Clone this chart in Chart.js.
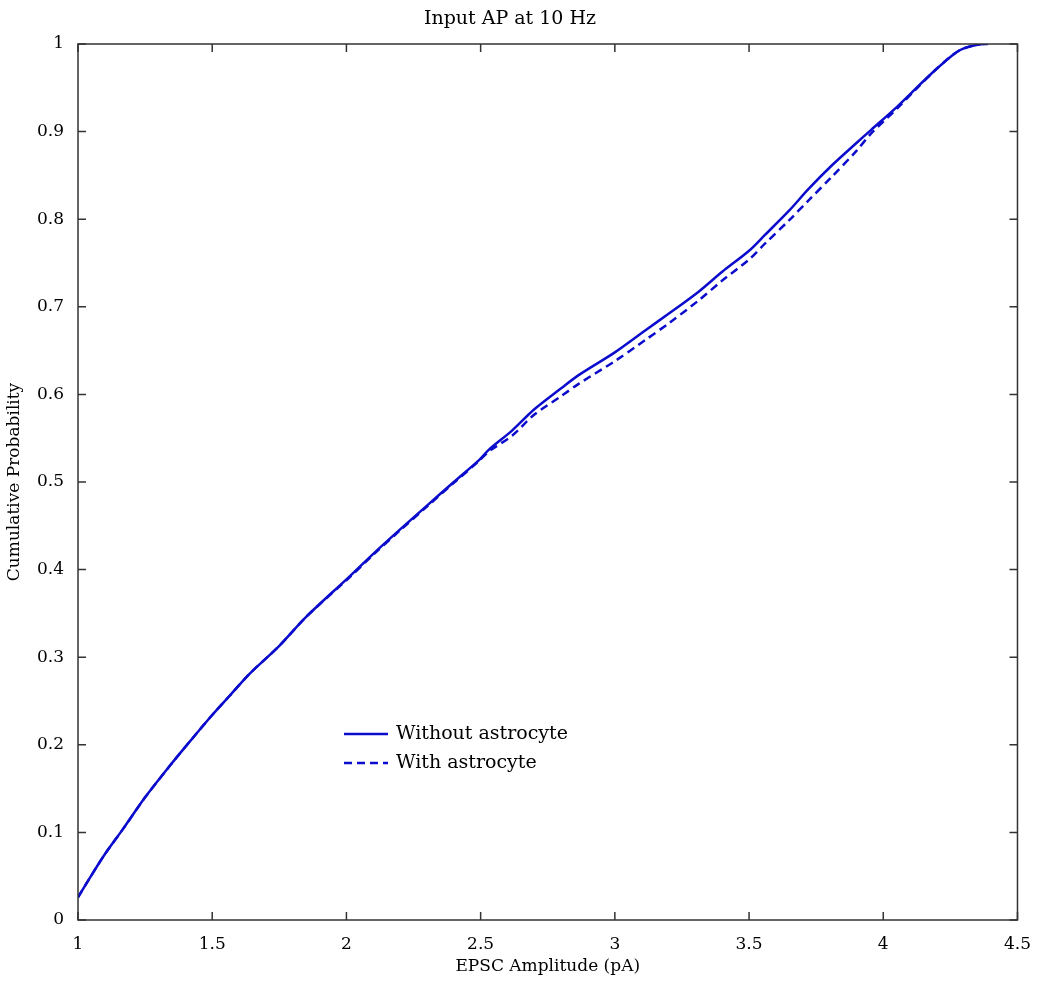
<!DOCTYPE html>
<html>
<head>
<meta charset="utf-8">
<script src="https://cdn.jsdelivr.net/npm/chart.js@4/dist/chart.umd.min.js"></script>
<style>
    html, body { margin: 0; padding: 0; background: #fff; }
    #wrap { width: 1037px; height: 981px; }
</style>
</head>
<body>
<div id="wrap"><canvas id="myChart"></canvas></div>
<script>
const ctx = document.getElementById('myChart');
const fontFamily = "'DejaVu Serif', 'Liberation Serif', serif";
const lineColor = 'rgb(12, 12, 205)';
const axisColor = '#333';

// EPSC amplitude (pA), shared by both curves
const amplitude = [1.0, 1.05, 1.1, 1.168, 1.25, 1.342, 1.42, 1.5, 1.565, 1.639, 1.75, 1.85,
    2.011, 2.1, 2.197, 2.3, 2.4, 2.494, 2.531, 2.618, 2.7, 2.8, 2.865, 3.0, 3.113, 3.2,
    3.311, 3.4, 3.5, 3.559, 3.65, 3.72, 3.807, 3.9, 3.955, 4.05, 4.117, 4.2, 4.265, 4.3,
    4.364, 4.39];
const probWithout = [0.026, 0.051, 0.075, 0.104, 0.14, 0.176, 0.205, 0.234, 0.256, 0.281, 0.313, 0.346,
    0.392, 0.418, 0.445, 0.473, 0.50, 0.525, 0.537, 0.559, 0.583, 0.607, 0.622, 0.648, 0.673, 0.692,
    0.717, 0.740, 0.764, 0.782, 0.810, 0.834, 0.861, 0.887, 0.902, 0.928, 0.948, 0.972, 0.989, 0.995,
    1.0, 1.0];
const probWith = [0.026, 0.051, 0.075, 0.104, 0.14, 0.176, 0.205, 0.234, 0.256, 0.281, 0.313, 0.346,
    0.391, 0.417, 0.444, 0.472, 0.499, 0.524, 0.535, 0.553, 0.577, 0.598, 0.612, 0.638, 0.662, 0.681,
    0.707, 0.730, 0.754, 0.772, 0.799, 0.821, 0.848, 0.878, 0.898, 0.926, 0.947, 0.972, 0.989, 0.995,
    1.0, 1.0];
const seriesLabels = ['Without astrocyte', 'With astrocyte'];
const xTicks = [1, 1.5, 2, 2.5, 3, 3.5, 4, 4.5];
const yTicks = [0, 0.1, 0.2, 0.3, 0.4, 0.5, 0.6, 0.7, 0.8, 0.9, 1];

// Box around the plot with MATLAB-style inward ticks on all sides
const matlabBox = {
    id: 'matlabBox',
    afterDatasetsDraw(chart) {
        const {ctx, chartArea: {top, bottom, left, right}, scales: {x, y}} = chart;
        const len = 8;
        ctx.save();
        ctx.strokeStyle = axisColor;
        ctx.lineWidth = 1.5;
        ctx.strokeRect(left, top, right - left, bottom - top);
        ctx.beginPath();
        xTicks.forEach(v => {
            const px = x.getPixelForValue(v);
            ctx.moveTo(px, bottom); ctx.lineTo(px, bottom - len);
            ctx.moveTo(px, top); ctx.lineTo(px, top + len);
        });
        yTicks.forEach(v => {
            const py = y.getPixelForValue(v);
            ctx.moveTo(left, py); ctx.lineTo(left + len, py);
            ctx.moveTo(right, py); ctx.lineTo(right - len, py);
        });
        ctx.stroke();
        ctx.restore();
    }
};

// Legend drawn inside the plot area, without a frame
const innerLegend = {
    id: 'innerLegend',
    afterDraw(chart) {
        const {ctx, chartArea: {top, left}} = chart;
        const x0 = left + 266, y0 = top + 690, gap = 29;
        ctx.save();
        ctx.font = '19px ' + fontFamily;
        ctx.textBaseline = 'middle';
        chart.data.datasets.forEach((ds, i) => {
            const yy = y0 + i * gap;
            ctx.strokeStyle = ds.borderColor;
            ctx.lineWidth = 2.5;
            ctx.setLineDash(ds.borderDash || []);
            ctx.beginPath();
            ctx.moveTo(x0, yy);
            ctx.lineTo(x0 + 44, yy);
            ctx.stroke();
            ctx.setLineDash([]);
            ctx.fillStyle = '#000';
            ctx.fillText(ds.label, x0 + 52, yy);
        });
        ctx.restore();
    }
};

function makeData(ys) {
    return amplitude.map((a, i) => ({x: a, y: ys[i]}));
}

new Chart(ctx, {
    type: 'scatter',
    data: {
        datasets: [
            {
                label: seriesLabels[0],
                data: makeData(probWithout),
                showLine: true,
                borderColor: lineColor,
                borderWidth: 2.5,
                pointRadius: 0,
                tension: 0.3
            },
            {
                label: seriesLabels[1],
                data: makeData(probWith),
                showLine: true,
                borderColor: lineColor,
                borderWidth: 2.5,
                borderDash: [8, 5],
                pointRadius: 0,
                tension: 0.3
            }
        ]
    },
    options: {
        responsive: true,
        maintainAspectRatio: false,
        animation: false,
        layout: {padding: {top: 0, right: 17, bottom: 0, left: 0}},
        scales: {
            x: {
                type: 'linear',
                min: 1,
                max: 4.5,
                afterBuildTicks: s => { s.ticks = xTicks.map(v => ({value: v})); },
                afterFit: s => { s.height = 61; },
                grid: {display: false},
                border: {display: false},
                ticks: {
                    color: '#000',
                    padding: 6,
                    font: {family: fontFamily, size: 17},
                    callback: v => String(v)
                },
                title: {
                    display: true,
                    text: 'EPSC Amplitude (pA)',
                    color: '#000',
                    padding: {top: 2},
                    font: {family: fontFamily, size: 17}
                }
            },
            y: {
                min: 0,
                max: 1,
                afterBuildTicks: s => { s.ticks = yTicks.map(v => ({value: v})); },
                afterFit: s => { s.width = 78; },
                grid: {display: false},
                border: {display: false},
                ticks: {
                    color: '#000',
                    padding: 6,
                    font: {family: fontFamily, size: 17},
                    callback: v => String(v)
                },
                title: {
                    display: true,
                    text: 'Cumulative Probability',
                    color: '#000',
                    padding: {bottom: 0},
                    font: {family: fontFamily, size: 17}
                }
            }
        },
        plugins: {
            legend: {display: false},
            tooltip: {enabled: false},
            title: {
                display: true,
                text: 'Input AP at 10 Hz',
                color: '#000',
                padding: {top: 8, bottom: 13.2},
                font: {family: fontFamily, size: 19, weight: 'normal'}
            }
        }
    },
    plugins: [matlabBox, innerLegend]
});
</script>
</body>
</html>
